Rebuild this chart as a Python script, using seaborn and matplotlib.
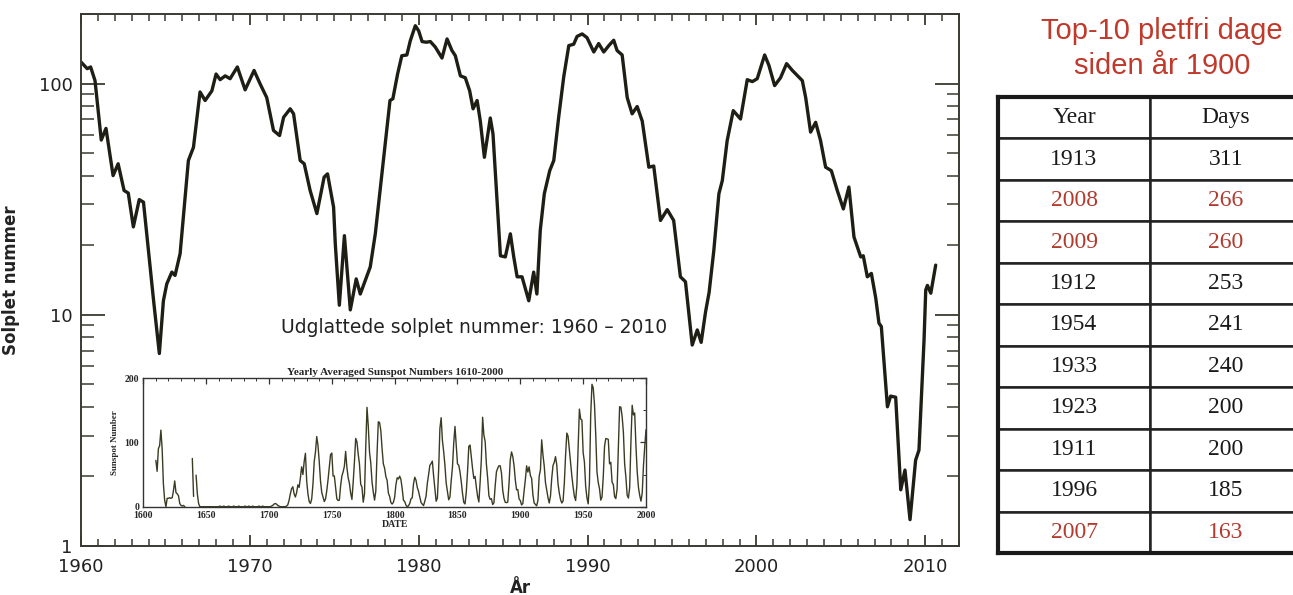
import numpy as np
import pandas as pd
import matplotlib
matplotlib.use("Agg")
import matplotlib.pyplot as plt
import seaborn as sns
from matplotlib.ticker import LogLocator, NullFormatter, FixedLocator, MultipleLocator

# ---------------- data ----------------
# smoothed monthly sunspot number 1960-2010
smooth_years = [
    1960.00, 1960.37, 1960.57, 1960.83, 1961.20, 1961.48, 1961.90, 1962.20, 1962.55, 1962.80,
    1963.10, 1963.45, 1963.70, 1964.30, 1964.64, 1964.88, 1965.08, 1965.38, 1965.57, 1965.87,
    1966.36, 1966.66, 1967.05, 1967.35, 1967.75, 1968.00, 1968.24, 1968.54, 1968.83, 1969.26,
    1969.72, 1970.25, 1970.60, 1971.00, 1971.40, 1971.76, 1972.00, 1972.39, 1972.59, 1972.98,
    1973.22, 1973.57, 1973.97, 1974.40, 1974.60, 1974.96, 1975.06, 1975.30, 1975.60, 1975.95,
    1976.30, 1976.54, 1977.13, 1977.43, 1977.82, 1978.12, 1978.30, 1978.47, 1978.75, 1979.00,
    1979.30, 1979.50, 1979.80, 1980.00, 1980.20, 1980.45, 1980.69, 1980.98, 1981.38, 1981.68,
    1981.97, 1982.17, 1982.47, 1982.76, 1983.02, 1983.22, 1983.46, 1983.65, 1983.89, 1984.24,
    1984.40, 1984.64, 1984.84, 1985.13, 1985.43, 1985.63, 1985.83, 1986.12, 1986.52, 1986.81,
    1987.00, 1987.20, 1987.44, 1987.76, 1988.00, 1988.29, 1988.59, 1988.89, 1989.18, 1989.38,
    1989.68, 1989.97, 1990.37, 1990.66, 1990.96, 1991.26, 1991.55, 1991.75, 1992.05, 1992.35,
    1992.64, 1992.94, 1993.24, 1993.63, 1993.92, 1994.32, 1994.72, 1995.10, 1995.50, 1995.80,
    1996.20, 1996.50, 1996.73, 1996.99, 1997.20, 1997.48, 1997.78, 1997.98, 1998.27, 1998.63,
    1999.06, 1999.46, 1999.76, 2000.05, 2000.49, 2000.74, 2001.08, 2001.43, 2001.79, 2002.13,
    2002.72, 2002.92, 2003.21, 2003.51, 2003.80, 2004.10, 2004.44, 2004.79, 2005.15, 2005.48,
    2005.78, 2006.18, 2006.33, 2006.57, 2006.81, 2007.07, 2007.26, 2007.40, 2007.76, 2007.95,
    2008.25, 2008.55, 2008.80, 2009.10, 2009.43, 2009.63, 2009.93, 2010.03, 2010.13, 2010.33,
    2010.62,
]
smooth_ssn = [
    124, 116, 118, 103, 57, 64, 40, 45, 34.5, 33.6,
    24, 31.5, 30.7, 11.5, 6.8, 11.5, 13.6, 15.3, 14.8, 18.4,
    46.5, 53, 92, 84.5, 93, 110, 104, 108, 105, 118,
    94, 114, 100, 87, 62.7, 59.6, 71.5, 77.8, 74, 46.5,
    45, 34.5, 27.4, 39.4, 40.7, 29.2, 20.3, 11, 22, 10.5,
    14.3, 12.3, 16.1, 22.4, 40.7, 64.8, 84.5, 86, 110, 132,
    133, 153, 178, 169, 152, 151, 152, 144, 129, 156,
    139, 132, 108, 106, 93, 77.8, 84.5, 68.8, 48, 71,
    60.6, 31, 18, 17.8, 22.4, 17.8, 14.6, 14.6, 11.5, 15.3,
    12.3, 23.2, 33.4, 42, 46.5, 71.5, 107, 146, 148, 160,
    164, 158, 137, 149, 137, 146, 154, 139, 133, 87,
    74, 79.6, 68.8, 43.5, 44, 25.6, 28.5, 25.6, 14.6, 13.9,
    7.4, 8.6, 7.6, 10.3, 12.5, 19, 33.4, 38, 56.7, 76.4,
    70.3, 104, 102, 105, 133, 120, 98, 106, 122, 114,
    103, 87, 61.7, 68, 56.7, 43.5, 42, 34.5, 28.7, 35.7,
    21.7, 17.8, 18, 14.6, 15.1, 11.8, 9.2, 8.9, 4.0, 4.45,
    4.4, 1.75, 2.13, 1.3, 2.35, 2.6, 7.8, 12.8, 13.4, 12.4,
    16.4,
]

# yearly averaged sunspot numbers 1610-2000 (inset)
inset_years = list(range(1610, 2001))
nan = np.nan
inset_ssn = [
    72, 55, 90, 95, 119, 90, 35, 10, 0, 13,                 # 1610
    13, 14, 13, 14, 25, 40, 22, 20, 17, 5,                  # 1620
    2, 1, 2, 0, nan, nan, nan, nan, nan, 75,                # 1630
    16, nan, 49, 20, 5, 0, 0, 0, 0, 0,                      # 1640
    0, 0, 0, 0, 0, 0, 0, 0, 0, 0,                           # 1650
    0, 1, 0, 0, 1, 0, 0, 0, 1, 0,                           # 1660
    0, 0, 1, 0, 0, 0, 1, 0, 0, 0,                           # 1670
    0, 1, 0, 0, 1, 0, 0, 1, 0, 0,                           # 1680
    0, 0, 1, 0, 0, 1, 0, 0, 0, 0,                           # 1690
    0, 0, 1, 2, 4, 5, 4, 2, 1, 0,                           # 1700
    0, 0, 0, 0, 1, 3, 10, 20, 28, 31,                       # 1710
    20, 15, 22, 34, 30, 45, 62, 50, 70, 83,                 # 1720
    40, 20, 8, 5, 12, 35, 70, 85, 109, 95,                  # 1730
    70, 40, 22, 15, 8, 12, 25, 42, 62, 80.9,                # 1740
    83.4, 47.7, 47.8, 30.7, 12.2, 9.6, 10.2, 32.4, 47.6, 54.0,
    62.9, 85.9, 61.2, 45.1, 36.4, 20.9, 11.4, 37.8, 69.8, 106.1,
    100.8, 81.6, 66.5, 34.8, 30.6, 7.0, 19.8, 92.5, 154.4, 125.9,
    84.8, 68.1, 38.5, 22.8, 10.2, 24.1, 82.9, 132.0, 130.9, 118.1,
    89.9, 66.6, 60.0, 46.9, 41.0, 21.3, 16.0, 6.4, 4.1, 6.8,
    14.5, 34.0, 45.0, 43.1, 47.5, 42.2, 28.1, 10.1, 8.1, 2.5,
    0.0, 1.4, 5.0, 12.2, 13.9, 35.4, 45.8, 41.1, 30.1, 23.9,
    15.6, 6.6, 4.0, 1.8, 8.5, 16.6, 36.3, 49.6, 64.2, 67.0,
    70.9, 47.8, 27.5, 8.5, 13.2, 56.9, 121.5, 138.3, 103.2, 85.7,
    64.6, 36.7, 24.2, 10.7, 15.0, 40.1, 61.5, 98.5, 124.7, 96.3,
    66.6, 64.5, 54.1, 39.0, 20.6, 6.7, 4.3, 22.7, 54.8, 93.8,
    95.8, 77.2, 59.1, 44.0, 47.0, 30.5, 16.3, 7.3, 37.6, 74.0,
    139.0, 111.2, 101.6, 66.2, 44.7, 17.0, 11.3, 12.4, 3.4, 6.0,
    32.3, 54.3, 59.7, 63.7, 63.5, 52.2, 25.4, 13.1, 6.8, 6.3,
    7.1, 35.6, 73.0, 85.1, 78.0, 64.0, 41.8, 26.2, 26.7, 12.1,
    9.5, 2.7, 5.0, 24.4, 42.0, 63.5, 53.8, 62.0, 48.5, 43.9,
    18.6, 5.7, 3.6, 1.4, 9.6, 47.4, 57.1, 103.9, 80.6, 63.6,
    37.6, 26.1, 14.2, 5.8, 16.7, 44.3, 63.9, 69.0, 77.8, 64.9,
    35.7, 21.2, 11.1, 5.7, 8.7, 36.1, 79.7, 114.4, 109.6, 88.8,
    67.8, 47.5, 30.6, 16.3, 9.6, 33.2, 92.6, 151.6, 136.3, 134.7,
    83.9, 69.4, 31.5, 13.9, 4.4, 38.0, 141.7, 190.2, 184.8, 159.0,
    112.3, 53.9, 37.6, 27.9, 10.2, 15.1, 47.0, 93.8, 105.9, 105.5,
    104.5, 66.6, 68.9, 38.0, 34.5, 15.5, 12.6, 27.5, 92.5, 155.4,
    154.6, 140.4, 115.9, 66.6, 45.9, 17.9, 13.4, 29.4, 100.2, 157.6,
    142.6, 145.7, 94.3, 54.6, 29.9, 17.5, 8.6, 21.5, 64.3, 93.3,
    119.6,
]

# table: top-10 spotless days since 1900
table_years = [1913, 2008, 2009, 1912, 1954, 1933, 1923, 1911, 1996, 2007]
table_days = [311, 266, 260, 253, 241, 240, 200, 200, 185, 163]
table_header = ["Year", "Days"]

main_xticks = [1960, 1970, 1980, 1990, 2000, 2010]
main_yticks = [1, 10, 100]
inset_xticks = [1600, 1650, 1700, 1750, 1800, 1850, 1900, 1950, 2000]
inset_yticks = [0, 100, 200]

# ---------------- style ----------------
sns.set_style("white")
plt.rcParams["font.family"] = ["DejaVu Sans"]

INK = "#1e1e14"
FRAME = "#3a3a32"
RED_TITLE = "#c0392b"
RED_CELL = "#b23b2e"

W, H = 1293, 595
fig = plt.figure(figsize=(W / 100, H / 100), dpi=100)
fig.patch.set_facecolor("white")

# ---------------- main axes ----------------
L, R, T, B = 81, 959, 14, 546
ax = fig.add_axes([L / W, 1 - B / H, (R - L) / W, (B - T) / H])
df_main = pd.DataFrame({"year": smooth_years, "ssn": smooth_ssn})
sns.lineplot(data=df_main, x="year", y="ssn", ax=ax, color=INK, lw=2.4,
             estimator=None, sort=False, legend=False)
ax.set_yscale("log")
ax.set_xlim(1960, 2012)
ax.set_ylim(1, 200)
ax.xaxis.set_major_locator(FixedLocator(main_xticks))
ax.xaxis.set_minor_locator(MultipleLocator(1))
ax.set_xticklabels([str(v) for v in main_xticks])
ax.yaxis.set_major_locator(FixedLocator(main_yticks))
ax.set_yticklabels([str(v) for v in main_yticks])
ax.yaxis.set_minor_locator(LogLocator(base=10, subs=np.arange(2, 10)))
ax.yaxis.set_minor_formatter(NullFormatter())
ax.tick_params(axis="x", which="major", direction="in", length=8, width=1.3,
               top=True, bottom=True, color=FRAME, labelsize=13, pad=9, labelcolor="#222")
ax.tick_params(axis="x", which="minor", direction="in", length=5, width=1.1,
               top=True, bottom=True, color=FRAME)
ax.tick_params(axis="y", which="major", direction="in", length=17, width=1.3,
               left=True, right=True, color=FRAME, labelsize=13, pad=6, labelcolor="#222")
ax.tick_params(axis="y", which="minor", direction="in", length=9, width=1.1,
               left=True, right=True, color=FRAME)
for s in ax.spines.values():
    s.set_color(FRAME)
    s.set_linewidth(1.4)
ax.set_xlabel("År", fontsize=12, fontweight="bold", labelpad=2, color="#222")
ax.set_ylabel("Solplet nummer", fontsize=12, fontweight="bold", color="#222")
ax.yaxis.set_label_coords(-(L - 20) / (R - L), 0.5)
ax.grid(False)
ax.text(0.4476, 0.41, "Udglattede solplet nummer: 1960 – 2010", transform=ax.transAxes,
        ha="center", va="center", fontsize=13.5, color="#222")

# ---------------- inset ----------------
iL, iR, iT, iB = 143.3, 646, 378, 506.7
axi = fig.add_axes([iL / W, 1 - iB / H, (iR - iL) / W, (iB - iT) / H])
df_in = pd.DataFrame({"year": inset_years, "ssn": inset_ssn})
df_in["seg"] = df_in["ssn"].isna().cumsum()
df_in = df_in.dropna()
sns.lineplot(data=df_in, x="year", y="ssn", units="seg", ax=axi, color="#3b3b22",
             lw=1.0, estimator=None, sort=False, legend=False)
axi.set_xlim(1600, 2000)
axi.set_ylim(0, 200)
axi.xaxis.set_major_locator(FixedLocator(inset_xticks))
axi.xaxis.set_minor_locator(MultipleLocator(10))
axi.set_xticklabels([str(v) for v in inset_xticks])
axi.yaxis.set_major_locator(FixedLocator(inset_yticks))
axi.set_yticklabels([str(v) for v in inset_yticks])
axi.yaxis.set_minor_locator(MultipleLocator(50))
serif = ["Liberation Serif", "DejaVu Serif"]
for lab in axi.get_xticklabels() + axi.get_yticklabels():
    lab.set_fontfamily(serif)
    lab.set_fontweight("bold")
axi.tick_params(axis="both", which="major", direction="in", length=4, width=0.9,
                top=True, right=True, labelsize=7, pad=3, color="#333")
axi.tick_params(axis="both", which="minor", direction="in", length=2, width=0.7,
                top=True, right=True, color="#333")
for s in axi.spines.values():
    s.set_color("#333")
    s.set_linewidth(1.0)
axi.set_facecolor("white")
axi.set_xlabel("DATE", fontsize=7, fontweight="bold", family=serif, labelpad=0)
axi.set_ylabel("Sunspot Number", fontsize=6.5, fontweight="bold", family=serif, labelpad=4)
axi.set_title("Yearly Averaged Sunspot Numbers 1610-2000", fontsize=8, fontweight="bold",
              family=serif, pad=2)
axi.grid(False)

# ---------------- table ----------------
tL, tR, tT, tB = 998, 1302, 97, 553
axt = fig.add_axes([tL / W, 1 - tB / H, (tR - tL) / W, (tB - tT) / H])
axt.set_xticks([])
axt.set_yticks([])
for s in axt.spines.values():
    s.set_color("#1a1a1a")
    s.set_linewidth(3)
cell_text = [[str(y), str(d)] for y, d in zip(table_years, table_days)]
tab = axt.table(cellText=cell_text, colLabels=table_header, cellLoc="center",
                bbox=[0, 0, 1, 1])
tab.auto_set_font_size(False)
for (r, c), cell in tab.get_celld().items():
    cell.set_edgecolor("#222")
    cell.set_linewidth(1.8)
    txt = cell.get_text()
    txt.set_fontfamily(serif)
    txt.set_fontsize(17)
    color = "#1a1a1a"
    if r > 0 and table_years[r - 1] >= 2007:
        color = RED_CELL
    txt.set_color(color)

title_font = ["Liberation Sans", "DejaVu Sans"]
fig.text(1162 / W, 1 - 31 / H, "Top-10 pletfri dage", ha="center", va="center",
         fontsize=21, color=RED_TITLE, family=title_font)
fig.text(1162 / W, 1 - 66 / H, "siden år 1900", ha="center", va="center",
         fontsize=21, color=RED_TITLE, family=title_font)

fig.savefig("out.png", dpi=100, facecolor="white")
